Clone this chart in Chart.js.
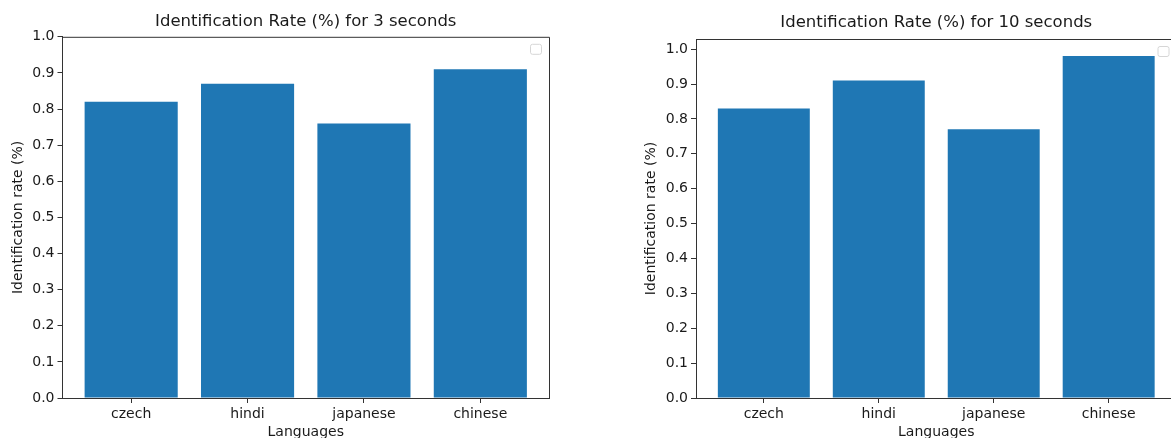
<!DOCTYPE html>
<html>
<head>
<meta charset="utf-8">
<script src="https://cdn.jsdelivr.net/npm/chart.js@4/dist/chart.umd.min.js"></script>
<style>
    body { margin: 0; width: 1171px; height: 438px; overflow: hidden; background: #fff; position: relative; }
    .panel { position: absolute; top: 0; height: 446px; }
    #left { left: 0; width: 585px; }
    #right { left: 620px; width: 565px; }
</style>
</head>
<body>
<div class="panel" id="left"><canvas id="chart3"></canvas></div>
<div class="panel" id="right"><canvas id="chart10"></canvas></div>
<script>
const languages = ['czech', 'hindi', 'japanese', 'chinese'];
const rate3s = [0.82, 0.87, 0.76, 0.91];
const rate10s = [0.83, 0.91, 0.77, 0.98];
const yTicks = [0.0, 0.1, 0.2, 0.3, 0.4, 0.5, 0.6, 0.7, 0.8, 0.9, 1.0];

const FONT = 'DejaVu Sans';
const TEXT = '#1a1a1a';
const BLUE = '#1f77b4';

// top/right spines + the empty matplotlib legend box
const framePlugin = {
    id: 'frame',
    afterDraw(chart) {
        const a = chart.chartArea;
        const ctx = chart.ctx;
        ctx.save();
        ctx.strokeStyle = '#333';
        ctx.lineWidth = 1;
        ctx.beginPath();
        ctx.moveTo(a.left, a.top + 0.5);
        ctx.lineTo(a.right + 0.5, a.top + 0.5);
        ctx.lineTo(a.right + 0.5, a.bottom);
        ctx.stroke();
        ctx.strokeStyle = '#d6d6d6';
        ctx.fillStyle = 'rgba(255,255,255,0.8)';
        ctx.beginPath();
        ctx.roundRect(a.right - 18.5, a.top + 7.5, 11, 10, 2);
        ctx.fill();
        ctx.stroke();
        ctx.restore();
    }
};

function makeChart(id, title, values, yMax, yAxisWidth, yTitlePad, pad, titlePad) {
    const ctx = document.getElementById(id).getContext('2d');
    return new Chart(ctx, {
        type: 'bar',
        data: {
            datasets: [{
                data: values.map((v, i) => ({ x: i, y: v })),
                backgroundColor: BLUE,
                borderWidth: 0,
                categoryPercentage: 1.0,
                barPercentage: 0.8
            }]
        },
        options: {
            responsive: true,
            maintainAspectRatio: false,
            animation: false,
            layout: { padding: pad },
            plugins: {
                legend: { display: false },
                tooltip: { enabled: false },
                title: {
                    display: true,
                    text: title,
                    fullSize: false,
                    color: TEXT,
                    font: { family: FONT, size: 16.5, weight: 'normal' },
                    padding: titlePad
                }
            },
            scales: {
                x: {
                    type: 'linear',
                    min: -0.59,
                    max: 3.59,
                    offset: false,
                    afterBuildTicks: s => { s.ticks = languages.map((l, i) => ({ value: i })); },
                    afterFit: s => { s.height = 48; },
                    grid: { display: true, offset: false, drawOnChartArea: false, drawTicks: true, tickLength: 5, color: '#333' },
                    border: { display: true, color: '#333', width: 1 },
                    ticks: {
                        color: TEXT,
                        padding: 2.5,
                        font: { family: FONT, size: 14 },
                        callback: v => languages[v]
                    },
                    title: {
                        display: true,
                        text: 'Languages',
                        color: TEXT,
                        font: { family: FONT, size: 14 },
                        padding: { top: 0, bottom: 5.6 }
                    }
                },
                y: {
                    min: 0,
                    max: yMax,
                    afterBuildTicks: s => { s.ticks = yTicks.map(v => ({ value: v })); },
                    afterFit: s => { s.width = yAxisWidth; },
                    grid: { display: true, drawOnChartArea: false, drawTicks: true, tickLength: 5, color: '#333' },
                    border: { display: true, color: '#333', width: 1 },
                    ticks: {
                        color: TEXT,
                        padding: 3,
                        font: { family: FONT, size: 14 },
                        callback: v => v.toFixed(1)
                    },
                    title: {
                        display: true,
                        text: 'Identification rate (%)',
                        color: TEXT,
                        font: { family: FONT, size: 14 },
                        padding: { top: yTitlePad, bottom: 0 }
                    }
                }
            }
        },
        plugins: [framePlugin]
    });
}

makeChart('chart3', 'Identification Rate (%) for 3 seconds', rate3s, 1.0, 62.5, 9.6,
    { left: 0, right: 36, top: 0, bottom: 0 }, { top: 12, bottom: 5 });
makeChart('chart10', 'Identification Rate (%) for 10 seconds', rate10s, 1.029, 76, 22.6,
    { left: 0, right: 8.5, top: 0, bottom: 0 }, { top: 13, bottom: 6.2 });
</script>
</body>
</html>
